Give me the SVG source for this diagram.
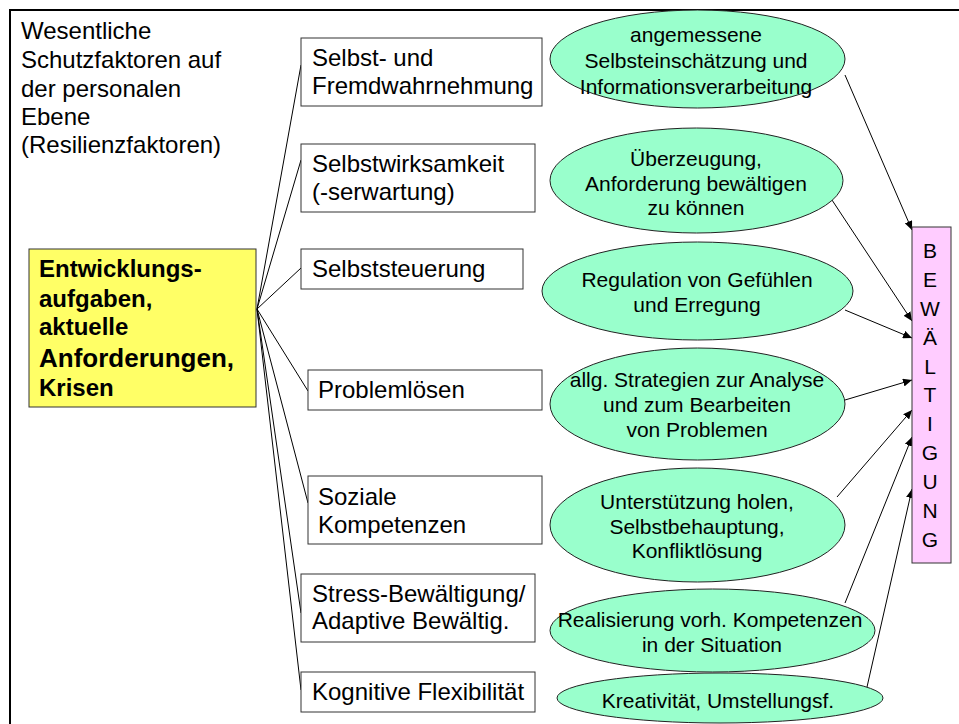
<svg xmlns="http://www.w3.org/2000/svg" width="959" height="724" viewBox="0 0 959 724">
<style>
text{font-family:"Liberation Sans",Arial,sans-serif;fill:#000}
.t{font-size:24px}
.b{font-size:24px;font-weight:bold}
.e{font-size:21px;text-anchor:middle}
.g{font-size:21px;text-anchor:middle}
.box{fill:#fff;stroke:#333;stroke-width:1}
.ell{fill:#99FFCC;stroke:#222;stroke-width:1}
.ln{stroke:#000;stroke-width:1;fill:none}
.ar{stroke:#000;stroke-width:1;fill:none;marker-end:url(#ah)}
</style>
<defs>
<marker id="ah" markerUnits="userSpaceOnUse" markerWidth="10" markerHeight="8" refX="9" refY="4" orient="auto">
<path d="M0,0 L9,4 L0,8 Z" fill="#000"/>
</marker>
</defs>
<rect width="959" height="724" fill="#fff"/>
<path d="M10,724 L10,10 L959,10" fill="none" stroke="#000" stroke-width="2"/>
<g id="title">
<text class="t" x="21" y="39">Wesentliche</text>
<text class="t" x="21" y="68">Schutzfaktoren auf</text>
<text class="t" x="21" y="97">der personalen</text>
<text class="t" x="21" y="125">Ebene</text>
<text class="t" x="21" y="153">(Resilienzfaktoren)</text>
</g>
<g id="connectors">
<line class="ln" x1="257" y1="309" x2="301" y2="65"/>
<line class="ln" x1="257" y1="309" x2="301" y2="160"/>
<line class="ln" x1="257" y1="309" x2="301" y2="268"/>
<line class="ln" x1="257" y1="309" x2="308" y2="391"/>
<line class="ln" x1="257" y1="309" x2="308" y2="503"/>
<line class="ln" x1="257" y1="309" x2="301" y2="613"/>
<line class="ln" x1="257" y1="309" x2="301" y2="690"/>
<line class="ar" x1="845" y1="75" x2="912" y2="230"/>
<line class="ar" x1="830" y1="197" x2="912" y2="321"/>
<line class="ar" x1="845" y1="310" x2="912" y2="338"/>
<line class="ar" x1="845" y1="400" x2="912" y2="380"/>
<line class="ar" x1="837" y1="497" x2="912" y2="410"/>
<line class="ar" x1="845" y1="603" x2="912" y2="437"/>
<line class="ar" x1="867" y1="687" x2="912" y2="489"/>
</g>
<g id="main">
<rect x="29" y="249" width="227" height="158" fill="#FFFF66" stroke="#333" stroke-width="1"/>
<text class="b" x="39" y="277">Entwicklungs-</text>
<text class="b" x="39" y="307">aufgaben,</text>
<text class="b" x="39" y="335">aktuelle</text>
<text class="b" x="39" y="367" style="font-size:26px">Anforderungen,</text>
<text class="b" x="39" y="396">Krisen</text>
</g>
<g id="box1">
<rect class="box" x="301" y="38" width="241" height="68"/>
<text class="t" x="312" y="66">Selbst- und</text>
<text class="t" x="312" y="94">Fremdwahrnehmung</text>
</g>
<g id="box2">
<rect class="box" x="301" y="144" width="234" height="68"/>
<text class="t" x="312" y="172">Selbstwirksamkeit</text>
<text class="t" x="312" y="200">(-serwartung)</text>
</g>
<g id="box3">
<rect class="box" x="301" y="249" width="222" height="40"/>
<text class="t" x="312" y="277">Selbststeuerung</text>
</g>
<g id="box4">
<rect class="box" x="308" y="370" width="234" height="40"/>
<text class="t" x="318" y="398">Problemlösen</text>
</g>
<g id="box5">
<rect class="box" x="308" y="476" width="234" height="68"/>
<text class="t" x="318" y="505">Soziale</text>
<text class="t" x="318" y="533">Kompetenzen</text>
</g>
<g id="box6">
<rect class="box" x="301" y="574" width="234" height="68"/>
<text class="t" x="312" y="602">Stress-Bewältigung/</text>
<text class="t" x="312" y="629">Adaptive Bewältig.</text>
</g>
<g id="box7">
<rect class="box" x="301" y="672" width="234" height="40"/>
<text class="t" x="312" y="700">Kognitive Flexibilität</text>
</g>
<g id="ell1">
<ellipse class="ell" cx="697.5" cy="59" rx="147.5" ry="49"/>
<text class="e" x="696" y="42">angemessene</text>
<text class="e" x="696" y="68">Selbsteinschätzung und</text>
<text class="e" x="696" y="94">Informationsverarbeitung</text>
</g>
<g id="ell2">
<ellipse class="ell" cx="696.5" cy="180.5" rx="146.5" ry="52.5"/>
<text class="e" x="696" y="166">Überzeugung,</text>
<text class="e" x="696" y="191">Anforderung bewältigen</text>
<text class="e" x="696" y="215">zu können</text>
</g>
<g id="ell3">
<ellipse class="ell" cx="697.5" cy="291" rx="155.5" ry="49"/>
<text class="e" x="697" y="287">Regulation von Gefühlen</text>
<text class="e" x="697" y="312">und Erregung</text>
</g>
<g id="ell4">
<ellipse class="ell" cx="697.5" cy="404" rx="147.5" ry="56"/>
<text class="e" x="697" y="387">allg. Strategien zur Analyse</text>
<text class="e" x="697" y="412">und zum Bearbeiten</text>
<text class="e" x="697" y="437">von Problemen</text>
</g>
<g id="ell5">
<ellipse class="ell" cx="697.5" cy="525" rx="147.5" ry="57"/>
<text class="e" x="697" y="509">Unterstützung holen,</text>
<text class="e" x="697" y="534">Selbstbehauptung,</text>
<text class="e" x="697" y="558">Konfliktlösung</text>
</g>
<g id="ell6">
<ellipse class="ell" cx="712.5" cy="630.5" rx="162.5" ry="41.5"/>
<text class="e" x="710" y="627">Realisierung vorh. Kompetenzen</text>
<text class="e" x="712" y="652">in der Situation</text>
</g>
<g id="ell7">
<ellipse class="ell" cx="720" cy="698" rx="163" ry="25"/>
<text class="e" x="718" y="708">Kreativität, Umstellungsf.</text>
</g>
<g id="bewaeltigung">
<rect x="912" y="227" width="39" height="336" fill="#FFCCFF" stroke="#333" stroke-width="1"/>
<text class="g" x="930" y="258">B</text>
<text class="g" x="930" y="287">E</text>
<text class="g" x="930" y="316">W</text>
<text class="g" x="930" y="345">Ä</text>
<text class="g" x="930" y="374">L</text>
<text class="g" x="930" y="402">T</text>
<text class="g" x="930" y="431">I</text>
<text class="g" x="930" y="460">G</text>
<text class="g" x="930" y="489">U</text>
<text class="g" x="930" y="518">N</text>
<text class="g" x="930" y="547">G</text>
</g>
</svg>
